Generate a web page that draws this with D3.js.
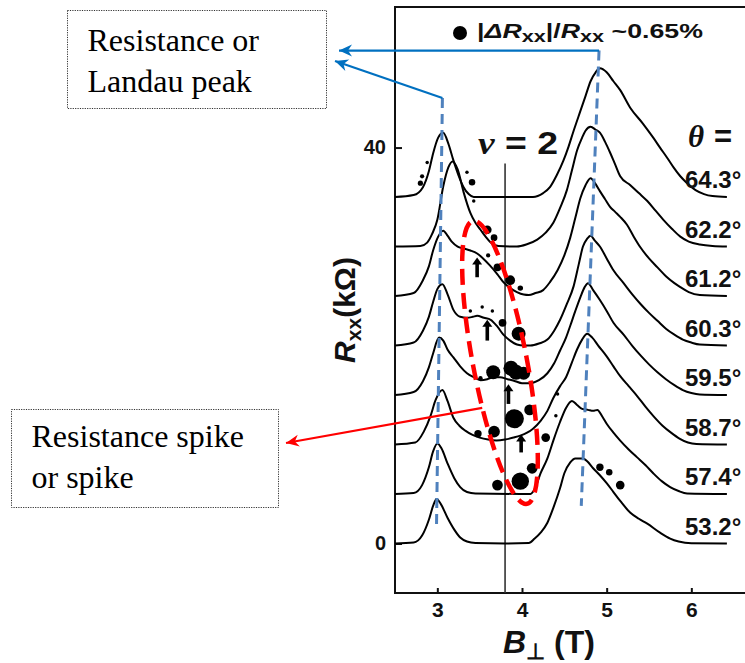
<!DOCTYPE html>
<html><head><meta charset="utf-8">
<script src="https://cdn.jsdelivr.net/npm/d3@7"></script>
<style>body{margin:0;background:#fff}svg{display:block}</style>
</head><body>
<script>
// ---------- DATA ----------
const angleLabels = ["53.2°","57.4°","58.7°","59.5°","60.3°","61.2°","62.2°","64.3°"];
const offsets = [0,5,10,15,20,25,30,35];   // vertical offset of each trace (kΩ)
const xTicks = [3,4,5,6];
const yTicks = [0,40];

// [B (T), Rxx above its own offset (kΩ)]
const trace53_2 = [[2.5,0],[2.72,0.1],[2.82,0.8],[2.9,2.4],[2.95,3.8],[2.99,4.5],[3.04,4.0],[3.12,2.6],[3.2,1.4],[3.27,0.6],[3.35,0.2],[3.45,0.05],[3.8,0],[4.08,0.05],[4.15,0.5],[4.22,1.1],[4.3,2.1],[4.37,3.6],[4.45,5.6],[4.5,7.1],[4.57,8.2],[4.63,8.6],[4.72,8.6],[4.77,8.3],[4.84,7.6],[4.92,6.9],[5.0,6.1],[5.08,5.2],[5.16,4.3],[5.28,3.1],[5.38,2.5],[5.48,2.0],[5.63,1.1],[5.75,0.5],[5.85,0.2],[6.0,0.02],[6.42,0]];
const trace57_4 = [[2.5,0],[2.72,0.1],[2.82,0.9],[2.9,2.7],[2.95,4.3],[3.0,5.1],[3.05,4.6],[3.12,3.1],[3.2,1.6],[3.27,0.7],[3.35,0.2],[3.45,0.05],[4.1,0],[4.15,0.5],[4.22,2.1],[4.3,3.6],[4.37,5.4],[4.45,7.3],[4.52,8.7],[4.59,9.4],[4.65,9.0],[4.71,8.6],[4.78,8.5],[4.84,8.4],[4.89,8.5],[4.95,7.8],[5.0,7.1],[5.08,6.2],[5.16,5.4],[5.26,4.5],[5.36,3.7],[5.46,2.9],[5.55,2.1],[5.65,1.3],[5.75,0.7],[5.85,0.3],[5.95,0.05],[6.42,0]];
const trace58_7 = [[2.5,0],[2.74,0.2],[2.84,1.3],[2.92,2.9],[2.98,4.5],[3.06,5.5],[3.12,4.4],[3.19,2.7],[3.26,1.9],[3.33,1.4],[3.41,1.0],[3.5,0.7],[3.6,0.5],[3.7,0.4],[3.8,0.5],[3.9,0.7],[3.98,0.9],[4.06,1.2],[4.13,1.6],[4.22,2.4],[4.3,3.4],[4.37,4.7],[4.45,5.9],[4.52,6.8],[4.59,8.3],[4.65,9.6],[4.71,10.6],[4.77,11.2],[4.83,10.8],[4.9,10.0],[5.0,8.9],[5.08,7.9],[5.16,6.9],[5.26,5.9],[5.36,4.9],[5.46,3.8],[5.56,2.8],[5.66,1.9],[5.76,1.2],[5.86,0.6],[5.96,0.2],[6.06,0.05],[6.42,0]];
const trace59_5 = [[2.5,0],[2.72,0.3],[2.83,1.4],[2.9,2.8],[2.95,4.2],[3.02,5.8],[3.07,5.5],[3.12,4.6],[3.19,3.8],[3.27,2.9],[3.35,2.2],[3.43,1.8],[3.51,1.5],[3.59,1.6],[3.66,1.8],[3.74,1.8],[3.83,1.6],[3.92,1.4],[4.0,1.2],[4.1,1.2],[4.2,1.5],[4.3,2.2],[4.38,3.2],[4.45,4.5],[4.52,5.8],[4.57,7.0],[4.63,8.5],[4.69,9.9],[4.74,10.9],[4.78,11.3],[4.84,10.6],[4.92,9.6],[5.0,8.5],[5.08,7.3],[5.2,6.1],[5.3,5.0],[5.4,4.0],[5.5,3.1],[5.6,2.3],[5.7,1.6],[5.8,1.0],[5.9,0.5],[6.0,0.2],[6.1,0.05],[6.42,0]];
const trace60_3 = [[2.5,0],[2.72,0.3],[2.83,1.5],[2.9,2.9],[2.95,4.4],[3.0,5.7],[3.06,6.2],[3.12,5.2],[3.19,3.6],[3.27,2.9],[3.35,2.8],[3.42,2.9],[3.47,3.0],[3.55,2.8],[3.63,2.6],[3.71,1.9],[3.78,1.1],[3.86,0.5],[3.94,0.1],[4.02,0],[4.1,0],[4.2,0.2],[4.3,0.6],[4.38,1.5],[4.45,2.6],[4.53,4.2],[4.61,6.0],[4.67,8.2],[4.72,10.0],[4.77,10.8],[4.81,11.1],[4.86,10.6],[4.92,10.0],[5.0,8.8],[5.08,7.6],[5.2,6.3],[5.3,5.2],[5.4,4.2],[5.5,3.3],[5.6,2.5],[5.7,1.7],[5.8,1.1],[5.9,0.6],[6.0,0.3],[6.1,0.1],[6.42,0]];
const trace61_2 = [[2.5,0],[2.72,0.3],[2.83,1.6],[2.9,3.0],[2.95,4.6],[3.01,6.0],[3.07,6.6],[3.12,6.1],[3.17,5.5],[3.24,5.0],[3.31,4.8],[3.39,4.6],[3.47,4.3],[3.54,3.8],[3.62,3.1],[3.71,2.2],[3.78,1.4],[3.86,0.8],[3.94,0.4],[4.02,0.15],[4.08,0.1],[4.16,0.3],[4.25,0.6],[4.33,1.4],[4.42,2.6],[4.5,4.1],[4.57,5.9],[4.63,7.9],[4.69,9.9],[4.75,11.2],[4.81,11.9],[4.87,11.3],[4.92,10.6],[4.98,9.8],[5.04,9.0],[5.1,8.5],[5.16,8.0],[5.24,7.2],[5.32,6.0],[5.4,4.9],[5.5,3.8],[5.6,2.9],[5.7,2.0],[5.8,1.3],[5.87,0.9],[5.97,0.4],[6.1,0.1],[6.42,0]];
const trace62_2 = [[2.5,0],[2.8,0.05],[2.88,0.4],[2.94,1.3],[3.0,2.7],[3.07,6.1],[3.13,8.0],[3.18,8.6],[3.24,7.8],[3.31,5.5],[3.39,3.4],[3.45,2.4],[3.51,1.7],[3.57,1.0],[3.63,0.4],[3.72,0.05],[3.94,0],[4.05,0.2],[4.18,0.7],[4.28,1.4],[4.37,2.4],[4.45,3.9],[4.53,5.7],[4.59,7.7],[4.65,9.7],[4.71,11.0],[4.75,11.7],[4.81,12.1],[4.87,11.8],[4.92,11.5],[4.98,10.6],[5.04,9.5],[5.1,8.3],[5.16,7.1],[5.28,6.2],[5.38,5.4],[5.48,4.6],[5.58,3.6],[5.67,2.7],[5.77,1.8],[5.87,1.0],[5.97,0.5],[6.1,0.2],[6.25,0.05],[6.42,0]];
const trace64_3 = [[2.5,0],[2.72,0.2],[2.83,1.0],[2.9,2.6],[2.95,4.4],[3.01,6.0],[3.07,6.5],[3.13,5.4],[3.19,3.7],[3.25,2.2],[3.31,1.0],[3.37,0.3],[3.43,0],[4.13,0],[4.25,0.4],[4.33,1.0],[4.41,2.2],[4.49,3.7],[4.55,5.1],[4.61,6.7],[4.69,8.7],[4.75,10.2],[4.81,11.7],[4.87,12.6],[4.92,13.0],[5.0,12.6],[5.08,11.7],[5.16,10.8],[5.28,9.0],[5.43,7.4],[5.55,6.0],[5.63,5.0],[5.72,3.9],[5.79,3.0],[5.87,2.1],[5.95,1.4],[6.05,0.7],[6.15,0.3],[6.25,0.1],[6.42,0]];
const traces = [trace53_2,trace57_4,trace58_7,trace59_5,trace60_3,trace61_2,trace62_2,trace64_3];

// spike markers: [B (T), Rxx (kΩ, absolute as plotted), |ΔRxx|/Rxx (%)]
const spikes = [[2.80,36.4,0.09],[2.82,37.1,0.06],[2.88,38.5,0.04],[3.35,37.5,0.04],[3.41,36.5,0.14],[3.43,34.6,0.04],
 [3.59,31.7,0.25],[3.67,30.9,0.15],[3.60,29.1,0.06],[3.71,27.9,0.2],[3.86,26.6,0.32],[3.98,25.8,0.1],
 [3.39,23.5,0.04],[3.53,23.9,0.04],[3.65,23.5,0.04],[3.77,22.3,0.2],[3.96,21.2,0.65],
 [3.66,17.3,0.65],[3.51,16.7,0.06],[3.87,17.7,0.75],[3.93,17.3,0.75],[4.02,17.2,0.55],[4.42,15.1,0.04],
 [3.48,11.1,0.18],[3.67,11.3,0.45],[3.91,12.6,1.2],[4.09,13.5,0.38],[4.28,10.7,0.25],[4.40,12.9,0.04],
 [3.71,5.9,0.38],[3.98,6.3,1.0],[4.12,7.6,0.38],
 [4.92,7.7,0.18],[5.03,7.2,0.14],[5.16,5.9,0.25]];
const legendValue = 0.65;
// small upward arrows: [B, R from, R to]
const upArrows = [[3.47,26.9,28.9],[3.59,20.5,22.6],[3.84,14.1,16.1],[3.99,9.2,11.0]];
const nu2B = 3.80, nu2Top = 38.4;
const leftPeakGuide = [[3.06,45.0],[2.99,1.6]];
const rightPeakGuide = [[4.91,49.8],[4.70,3.8]];
const spikeRegionCenter = [3.74,18.3];
const spikeArrowStart = [3.53,13.7];

// ---------- DRAW ----------
const W=745,H=663;
const SANS="'Liberation Sans', Arial, sans-serif", SERIF="'Liberation Serif','Times New Roman',serif";
const svg=d3.select("body").append("svg").attr("width",W).attr("height",H).style("font-family",SANS);
const x=d3.scaleLinear().domain([2.5,7.0]).range([395,776]);
const y=d3.scaleLinear().domain([-5,54.2]).range([593,7]);
const r=d3.scaleSqrt().domain([0,0.65]).range([0,7]);

const defs=svg.append("defs");
function mk(id,color){
  defs.append("marker").attr("id",id).attr("viewBox","-14 -7 15 14").attr("refX",0).attr("refY",0)
   .attr("markerWidth",15).attr("markerHeight",14).attr("markerUnits","userSpaceOnUse").attr("orient","auto")
   .append("path").attr("d","M0,0 L-13,-6 L-9,0 L-13,6 Z").attr("fill",color);
}
mk("blueHead","#0070C0"); mk("redHead","#FF0000");

// frame
svg.append("rect").attr("x",x(2.5)).attr("y",y(54.2)).attr("width",x(7.0)-x(2.5)).attr("height",y(-5)-y(54.2))
  .attr("fill","none").attr("stroke","#111").attr("stroke-width",2);

// axes
const xa=svg.append("g").attr("transform",`translate(0,${y(-5)})`)
  .call(d3.axisBottom(x).tickValues(xTicks).tickFormat(d3.format("d")).tickSizeInner(-5).tickSizeOuter(0).tickPadding(9));
xa.select(".domain").remove();
xa.selectAll("line").attr("stroke","#111").attr("stroke-width",2);
xa.selectAll("text").style("font-size","21px").style("font-weight","bold").style("font-family",SANS).attr("fill","#111");
const ya=svg.append("g").attr("transform",`translate(${x(2.5)},0)`)
  .call(d3.axisLeft(y).tickValues(yTicks).tickSizeInner(-7).tickSizeOuter(0).tickPadding(9));
ya.select(".domain").remove();
ya.selectAll("line").attr("stroke","#111").attr("stroke-width",2);
ya.selectAll("text").style("font-size","20px").style("font-weight","bold").style("font-family",SANS).attr("fill","#111");

// nu = 2 line
svg.append("line").attr("x1",x(nu2B)).attr("x2",x(nu2B)).attr("y1",y(nu2Top)).attr("y2",y(-5))
  .attr("stroke","#333").attr("stroke-width",1.6);

// traces
const line=d3.line().curve(d3.curveMonotoneX);
traces.forEach((t,i)=>{
  svg.append("path").attr("d",line(t.map(d=>[x(d[0]),y(d[1]+offsets[i])])))
    .attr("fill","none").attr("stroke","#000").attr("stroke-width",2).attr("stroke-linejoin","round");
});

// angle labels
svg.append("g").selectAll("text").data(angleLabels).join("text")
  .attr("x",685).attr("y",(d,i)=>y(offsets[i])-9)
  .style("font-size","24px").style("font-weight","bold").attr("fill","#111").text(d=>d);
svg.append("text").attr("x",688).attr("y",147).style("font-size","31px").style("font-weight","bold").attr("fill","#111")
  .html(`<tspan font-family="${SERIF}" font-style="italic">θ</tspan><tspan dx="10">=</tspan>`);

// spikes
svg.append("g").selectAll("circle").data(spikes).join("circle")
  .attr("cx",d=>x(d[0])).attr("cy",d=>y(d[1])).attr("r",d=>r(d[2])).attr("fill","#000");

// up arrows
upArrows.forEach(a=>{
  const cx=x(a[0]), y0=y(a[1]), y1=y(a[2]);
  svg.append("line").attr("x1",cx).attr("x2",cx).attr("y1",y0).attr("y2",y1+6).attr("stroke","#000").attr("stroke-width",3.6);
  svg.append("path").attr("d",`M${cx-5},${y1+7} L${cx},${y1} L${cx+5},${y1+7} Z`).attr("fill","#000");
});

// legend
svg.append("circle").attr("cx",460).attr("cy",33).attr("r",r(legendValue)).attr("fill","#000");
svg.append("text").attr("x",477).attr("y",38).style("font-size","21px").style("font-weight","bold").attr("fill","#111")
  .attr("textLength",226).attr("lengthAdjust","spacingAndGlyphs")
  .html(`|<tspan font-style="italic">ΔR</tspan><tspan font-size="17px" dy="4">xx</tspan><tspan dy="-4">|/</tspan><tspan font-style="italic">R</tspan><tspan font-size="17px" dy="4">xx</tspan><tspan dy="-4"> ~0.65%</tspan>`);

// nu = 2 label
svg.append("text").attr("x",478).attr("y",154).style("font-size","31px").style("font-weight","bold").attr("fill","#111")
  .attr("textLength",80).attr("lengthAdjust","spacingAndGlyphs")
  .html(`<tspan font-style="italic" font-family="${SERIF}">ν</tspan> = 2`);

// axis titles
svg.append("text").attr("x",503).attr("y",653).style("font-size","32px").style("font-weight","bold").attr("fill","#111")
  .html(`<tspan font-style="italic">B</tspan><tspan font-size="22px" dy="6">⊥</tspan><tspan dy="-6"> (T)</tspan>`);
svg.append("text").attr("transform","translate(355,310) rotate(-90)").attr("text-anchor","middle")
  .style("font-size","30px").style("font-weight","bold").attr("fill","#111")
  .html(`<tspan font-style="italic">R</tspan><tspan font-size="21px" dy="6">xx</tspan><tspan dy="-6">(kΩ)</tspan>`);

// blue dashed peak guides
[leftPeakGuide,rightPeakGuide].forEach(g=>{
  svg.append("line").attr("x1",x(g[0][0])).attr("y1",y(g[0][1])).attr("x2",x(g[1][0])).attr("y2",y(g[1][1]))
    .attr("stroke","#4F81BD").attr("stroke-width",3).attr("stroke-dasharray","10,6");
});
// blue annotation arrows
svg.append("line").attr("x1",x(rightPeakGuide[0][0])).attr("y1",y(rightPeakGuide[0][1])).attr("x2",339).attr("y2",y(rightPeakGuide[0][1]))
  .attr("stroke","#0070C0").attr("stroke-width",2.2).attr("marker-end","url(#blueHead)");
svg.append("line").attr("x1",x(leftPeakGuide[0][0])).attr("y1",y(leftPeakGuide[0][1])).attr("x2",335).attr("y2",61)
  .attr("stroke","#0070C0").attr("stroke-width",2.2).attr("marker-end","url(#blueHead)");

// red dashed ellipse
svg.append("ellipse").attr("cx",0).attr("cy",0).attr("rx",27).attr("ry",144)
  .attr("transform",`translate(${x(spikeRegionCenter[0])},${y(spikeRegionCenter[1])}) rotate(-10.8)`)
  .attr("fill","none").attr("stroke","#FF0000").attr("stroke-width",4.5).attr("stroke-dasharray","16,8");
// red arrow
svg.append("line").attr("x1",x(spikeArrowStart[0])).attr("y1",y(spikeArrowStart[1])).attr("x2",286).attr("y2",443)
  .attr("stroke","#FF0000").attr("stroke-width",2.2).attr("marker-end","url(#redHead)");

// annotation boxes
function box(x0,y0,w,h,lines,ty){
  svg.append("rect").attr("x",x0).attr("y",y0).attr("width",w).attr("height",h).attr("fill","#fff")
    .attr("stroke","#333").attr("stroke-width",1).attr("stroke-dasharray","1.2,1.2");
  lines.forEach((t,i)=>svg.append("text").attr("x",x0+20).attr("y",ty+i*41).style("font-family",SERIF)
    .style("font-size","32px").attr("fill","#000").text(t));
}
box(67.5,10.5,259,98,["Resistance or","Landau peak"],51);
box(11.5,409.5,267,98,["Resistance spike","or spike"],447);
</script>
</body></html>
